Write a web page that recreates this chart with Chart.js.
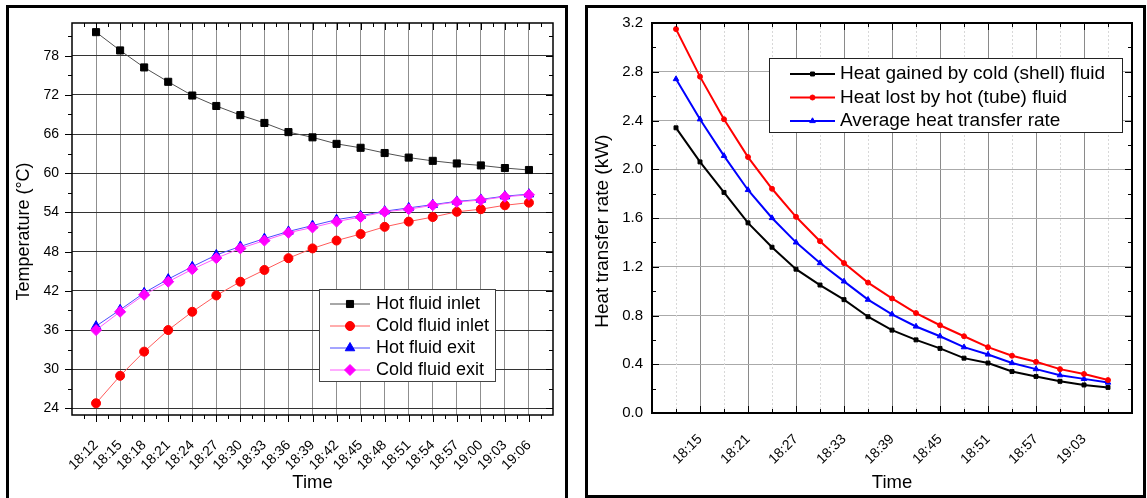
<!DOCTYPE html>
<html>
<head>
<meta charset="utf-8">
<script src="https://cdn.jsdelivr.net/npm/chart.js@4.4.1/dist/chart.umd.min.js"></script>
<style>
  html, body { margin: 0; padding: 0; background: #fff; overflow: hidden; }
  .panel { position: absolute; border: 3px solid #000; box-sizing: border-box; }
  #left-panel { left: 6px; top: 5px; width: 562px; height: 530px; }
  #right-panel { left: 585px; top: 5px; width: 561px; height: 493px; }
  canvas { position: absolute; }
  #temp-chart { left: 9px; top: 8px; }
  #heat-chart { left: 588px; top: 8px; }
</style>
</head>
<body>
<div class="panel" id="left-panel"></div>
<div class="panel" id="right-panel"></div>
<canvas id="temp-chart" width="556" height="490"></canvas>
<canvas id="heat-chart" width="555" height="487"></canvas>
<script>
const times = ["18:12", "18:15", "18:18", "18:21", "18:24", "18:27", "18:30", "18:33", "18:36", "18:39",
  "18:42", "18:45", "18:48", "18:51", "18:54", "18:57", "19:00", "19:03", "19:06"];

// left panel, temperatures (°C)
const hotInlet = [81.6, 78.8, 76.2, 74.0, 71.9, 70.3, 68.9, 67.7, 66.3, 65.5, 64.5, 63.9, 63.1, 62.4, 61.9, 61.5, 61.2, 60.8, 60.5];
const coldInlet = [24.8, 29.0, 32.7, 36.0, 38.8, 41.3, 43.4, 45.2, 47.0, 48.5, 49.7, 50.7, 51.8, 52.6, 53.3, 54.1, 54.5, 55.1, 55.5];
const hotExit = [36.6, 39.1, 41.7, 43.8, 45.7, 47.5, 48.8, 50.0, 51.1, 52.0, 52.9, 53.5, 54.2, 54.7, 55.2, 55.7, 56.0, 56.5, 56.8];
const coldExit = [36.0, 38.8, 41.4, 43.4, 45.3, 47.0, 48.5, 49.7, 50.9, 51.7, 52.6, 53.3, 54.1, 54.5, 55.1, 55.6, 55.9, 56.4, 56.7];
const tempTicks = [24, 30, 36, 42, 48, 54, 60, 66, 72, 78];

// right panel, heat transfer rate (kW)
const heatGained = [2.34, 2.06, 1.81, 1.56, 1.36, 1.18, 1.05, 0.93, 0.79, 0.68, 0.60, 0.53, 0.45, 0.41, 0.34, 0.30, 0.26, 0.23, 0.21];
const heatLost = [3.15, 2.76, 2.41, 2.10, 1.84, 1.61, 1.41, 1.23, 1.07, 0.94, 0.82, 0.72, 0.63, 0.54, 0.47, 0.42, 0.36, 0.32, 0.27];
const heatAverage = [2.74, 2.41, 2.11, 1.83, 1.60, 1.40, 1.23, 1.08, 0.93, 0.81, 0.71, 0.63, 0.54, 0.48, 0.41, 0.36, 0.31, 0.28, 0.25];
const heatTicks = [0, 0.4, 0.8, 1.2, 1.6, 2.0, 2.4, 2.8, 3.2];
const heatTimeTicks = ["18:15", "18:21", "18:27", "18:33", "18:39", "18:45", "18:51", "18:57", "19:03"];

Chart.defaults.font.family = 'Arial, "Liberation Sans", sans-serif';
Chart.defaults.color = "#000";

const toPoints = (values) => values.map((v, i) => ({ x: i, y: v }));

// midpoints between major ticks (plus one step outside each end, if still inside the axis)
function minorValues(majors, min, max) {
  const step = majors[1] - majors[0];
  const out = [];
  for (let v = majors[0] - step / 2; v <= max + 1e-9; v += step) {
    if (v >= min - 1e-9) out.push(v);
  }
  return out;
}

// fixed axis sizes so the plot area sits where it does in the figure
const fixWidth = (w) => (s) => { s.width = w; s.paddingTop = 0; s.paddingBottom = 0; };
const fixHeight = (h) => (s) => { s.height = h; };

// plot frame plus Origin-style major/minor tick marks on all four sides
const frameTicks = {
  id: "frameTicks",
  beforeDatasetsDraw(chart, args, o) {
    if (!o.minorGridX) return;
    const { ctx, chartArea: a, scales: { x } } = chart;
    const xMaj = x.ticks.map((t) => t.value);
    ctx.save();
    ctx.strokeStyle = o.minorGridX;
    ctx.lineWidth = 1;
    ctx.setLineDash([2, 2]);
    ctx.beginPath();
    minorValues(xMaj, x.min, x.max).forEach((v) => {
      const px = Math.round(x.getPixelForValue(v)) + 0.5;
      ctx.moveTo(px, a.top);
      ctx.lineTo(px, a.bottom);
    });
    ctx.stroke();
    ctx.restore();
  },
  afterDatasetsDraw(chart, args, o) {
    const { ctx, chartArea: a, scales: { x, y } } = chart;
    const xMaj = x.ticks.map((t) => t.value);
    const yMaj = y.ticks.map((t) => t.value);
    const bDir = o.bottomOut ? 1 : -1;
    const lDir = o.leftOut ? -1 : 1;
    ctx.save();
    ctx.strokeStyle = "#000";
    ctx.lineWidth = 1;
    ctx.beginPath();
    const markX = (vals, len) => {
      vals.forEach((v) => {
        const px = Math.round(x.getPixelForValue(v)) + 0.5;
        ctx.moveTo(px, a.bottom);
        ctx.lineTo(px, a.bottom + bDir * len);
        ctx.moveTo(px, a.top);
        ctx.lineTo(px, a.top + len);
      });
    };
    const markY = (vals, len) => {
      vals.forEach((v) => {
        const py = Math.round(y.getPixelForValue(v)) + 0.5;
        ctx.moveTo(a.left, py);
        ctx.lineTo(a.left + lDir * len, py);
        ctx.moveTo(a.right, py);
        ctx.lineTo(a.right - len, py);
      });
    };
    markX(xMaj, o.major);
    markX(minorValues(xMaj, x.min, x.max), o.minor);
    markY(yMaj, o.major);
    markY(minorValues(yMaj, y.min, y.max), o.minor);
    ctx.stroke();
    ctx.lineWidth = o.frameWidth;
    ctx.strokeRect(a.left, a.top, a.right - a.left, a.bottom - a.top);
    ctx.restore();
  },
};

// boxed legend inside the plot, line sample with the marker on it
const boxLegend = {
  id: "boxLegend",
  afterDraw(chart, args, o) {
    const ctx = chart.ctx;
    ctx.save();
    ctx.fillStyle = "#fff";
    ctx.fillRect(o.x, o.y, o.w, o.h);
    ctx.strokeStyle = o.border;
    ctx.lineWidth = 1;
    ctx.strokeRect(o.x + 0.5, o.y + 0.5, o.w, o.h);
    ctx.font = o.font;
    ctx.textBaseline = "middle";
    ctx.textAlign = "left";
    chart.data.datasets.forEach((ds, i) => {
      const cy = o.y + o.first + i * o.row;
      ctx.strokeStyle = ds.borderColor;
      ctx.lineWidth = ds.borderWidth;
      ctx.beginPath();
      ctx.moveTo(o.x + o.line[0], cy);
      ctx.lineTo(o.x + o.line[1], cy);
      ctx.stroke();
      ctx.fillStyle = ds.pointBackgroundColor;
      ctx.strokeStyle = ds.pointBorderColor;
      ctx.lineWidth = 1;
      Chart.helpers.drawPoint(ctx, { pointStyle: ds.pointStyle, radius: ds.pointRadius, rotation: 0, borderWidth: 1 },
        o.x + (o.line[0] + o.line[1]) / 2, cy);
      ctx.fillStyle = "#000";
      ctx.fillText(ds.label, o.x + o.textX, cy);
    });
    ctx.restore();
  },
};

function series(label, values, line, color, style, radius, width) {
  return {
    label,
    data: toPoints(values),
    borderColor: line,
    borderWidth: width,
    pointBackgroundColor: color,
    pointBorderColor: color,
    pointBorderWidth: 1,
    pointStyle: style,
    pointRadius: radius,
    tension: 0,
  };
}

new Chart(document.getElementById("temp-chart"), {
  type: "line",
  data: {
    datasets: [
      series("Hot fluid inlet", hotInlet, "#505050", "#000", "rect", 5, 1),
      series("Cold fluid inlet", coldInlet, "#ff5a5a", "#ff0000", "circle", 4.5, 1),
      series("Hot fluid exit", hotExit, "#4a4aff", "#0000ff", "triangle", 5.5, 1),
      { ...series("Cold fluid exit", coldExit, "#ff5aff", "#ff00ff", "rectRot", 5.5, 1), order: -1 },
    ],
  },
  plugins: [frameTicks, boxLegend],
  options: {
    responsive: false,
    animation: false,
    layout: { padding: { top: 15, right: 12, left: 0, bottom: 0 } },
    plugins: {
      legend: { display: false },
      tooltip: { enabled: false },
      frameTicks: { bottomOut: true, leftOut: true, major: 7, minor: 4, frameWidth: 1.5 },
      boxLegend: {
        x: 310, y: 281, w: 176, h: 92, first: 15, row: 22, line: [11, 51], textX: 57,
        font: '18px Arial, "Liberation Sans", sans-serif', border: "#444",
      },
    },
    scales: {
      x: {
        type: "linear",
        min: -1,
        max: 19,
        afterBuildTicks: (s) => { s.ticks = times.map((t, i) => ({ value: i })); },
        afterFit: fixHeight(83),
        grid: { color: "#8f8f8f", drawTicks: false },
        border: { display: false },
        ticks: {
          autoSkip: false, minRotation: 45, maxRotation: 45, padding: 22,
          font: { size: 14 },
          callback: (v) => times[v],
        },
        title: { display: true, text: "Time", font: { size: 18.5 }, padding: { top: 0, bottom: 4 } },
      },
      y: {
        min: 23,
        max: 83,
        afterBuildTicks: (s) => { s.ticks = tempTicks.map((v) => ({ value: v })); },
        afterFit: fixWidth(63),
        grid: { color: "#333", drawTicks: false },
        border: { display: false },
        ticks: { padding: 13, font: { size: 14 } },
        title: { display: true, text: "Temperature (°C)     ", font: { size: 18 }, padding: { top: 4, bottom: 0 } },
      },
    },
  },
});

const heatTickIndex = heatTimeTicks.map((t) => times.indexOf(t));

new Chart(document.getElementById("heat-chart"), {
  type: "line",
  data: {
    datasets: [
      series("Heat gained by cold (shell) fluid", heatGained, "#000", "#000", "rect", 2.8, 2),
      series("Heat lost by hot (tube) fluid", heatLost, "#ff0000", "#ff0000", "circle", 2.5, 2),
      series("Average heat transfer rate", heatAverage, "#0000ff", "#0000ff", "triangle", 3.2, 2),
    ],
  },
  plugins: [frameTicks, boxLegend],
  options: {
    responsive: false,
    animation: false,
    layout: { padding: { top: 15, right: 11, left: 0, bottom: 0 } },
    plugins: {
      legend: { display: false },
      tooltip: { enabled: false },
      frameTicks: { bottomOut: false, leftOut: false, major: 7, minor: 4, frameWidth: 2, minorGridX: "#d8d8d8" },
      boxLegend: {
        x: 181, y: 50, w: 353, h: 74, first: 16, row: 23.5, line: [21, 66], textX: 71,
        font: '19px Arial, "Liberation Sans", sans-serif', border: "#222",
      },
    },
    scales: {
      x: {
        type: "linear",
        min: -1,
        max: 19,
        afterBuildTicks: (s) => { s.ticks = heatTickIndex.map((i) => ({ value: i })); },
        afterFit: fixHeight(82),
        grid: { color: "#8a8a8a", drawTicks: false },
        border: { display: false },
        ticks: {
          autoSkip: false, minRotation: 45, maxRotation: 45, padding: 18,
          font: { size: 14 },
          callback: (v) => times[v],
        },
        title: { display: true, text: "Time", font: { size: 18.5 }, padding: { top: 0, bottom: 1 } },
      },
      y: {
        min: 0,
        max: 3.2,
        afterBuildTicks: (s) => { s.ticks = heatTicks.map((v) => ({ value: v })); },
        afterFit: fixWidth(64),
        grid: { color: "#aaa", drawTicks: false },
        border: { display: false },
        ticks: { padding: 9, font: { size: 15 }, callback: (v) => v.toFixed(1) },
        title: { display: true, text: "Heat transfer rate (kW)     ", font: { size: 19 }, padding: { top: 3, bottom: 0 } },
      },
    },
  },
});
</script>
</body>
</html>
